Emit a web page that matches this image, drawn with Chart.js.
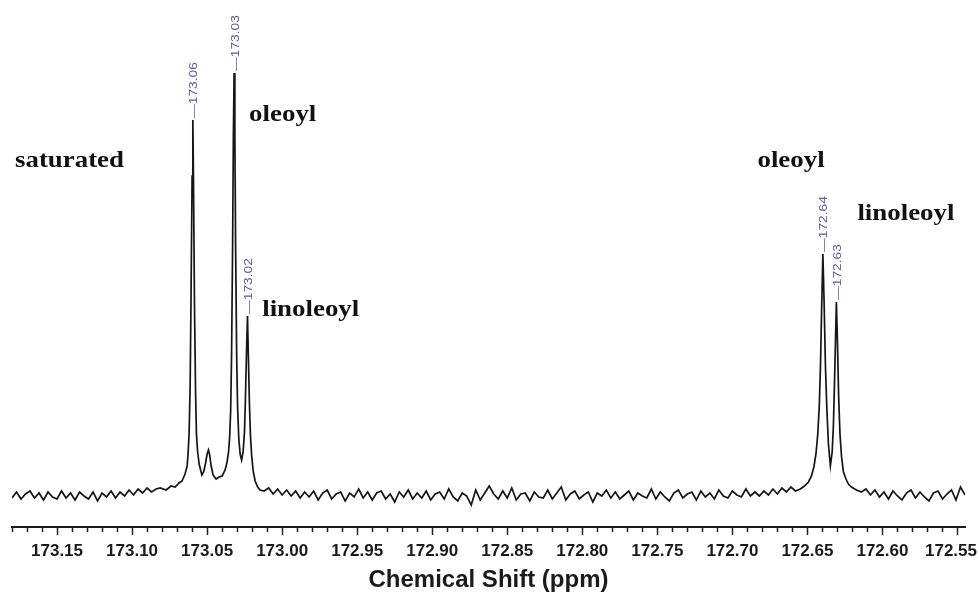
<!DOCTYPE html>
<html>
<head>
<meta charset="utf-8">
<title>13C NMR carbonyl region</title>
<script src="https://cdn.jsdelivr.net/npm/chart.js@4.4.1/dist/chart.umd.min.js"></script>
<style>
    html, body { margin: 0; padding: 0; background: #fff; }
    canvas { display: block; }
</style>
</head>
<body>
<canvas id="nmrCanvas" width="979" height="597"></canvas>
<script>
// spectrum, split in pieces (ppm / intensity, a.u.)
const baseLeftPpm = [
    173.180, 173.177, 173.174, 173.171, 173.168, 173.165, 173.162, 173.159, 173.156, 173.153,
    173.150, 173.147, 173.144, 173.141, 173.138, 173.135, 173.132, 173.129, 173.126, 173.123,
    173.120, 173.117, 173.114, 173.111, 173.108, 173.105, 173.102, 173.099, 173.096, 173.093,
    173.090, 173.087, 173.084
];
const baseLeftInt = [
    -2, 4, -3, 2, 5, -2, 3, -4, 4, -1,
    -3, 5, -2, 3, -4, 4, 0, -3, 4, -5,
    3, -1, 5, -2, 4, 0, 6, 1, 7, 3,
    8, 4, 7
];

const peaks173Ppm = [
    173.0813, 173.0773, 173.0740, 173.0713, 173.0687, 173.0667,
    173.0647, 173.0633, 173.0627, 173.0620, 173.0613, 173.0607, 173.0600, 173.0595,
    173.0591, 173.0584, 173.0577, 173.0571, 173.0563, 173.0553, 173.0535,
    173.0523, 173.0510, 173.0500, 173.0491, 173.0483, 173.0473, 173.0460, 173.0440,
    173.0420, 173.0400, 173.0380, 173.0367,
    173.0357, 173.0350, 173.0343, 173.0337, 173.0330, 173.0325, 173.0320, 173.0315,
    173.0310, 173.0303, 173.0297, 173.0289, 173.0280, 173.0270, 173.0260, 173.0251,
    173.0245, 173.0238, 173.0231, 173.0225, 173.0218, 173.0211, 173.0203, 173.0193,
    173.0180, 173.0163, 173.0147
];
const peaks173Int = [
    8, 6, 10, 9, 13, 15,
    22, 30, 42, 62, 110, 200, 320, 376,
    320, 190, 105, 62, 44, 32, 21,
    24, 33, 42, 46, 41, 30, 21, 17,
    19, 20, 26, 34,
    44, 58, 85, 140, 250, 360, 423, 360,
    250, 140, 90, 58, 42, 36, 44, 64,
    95, 140, 180, 140, 92, 60, 40, 25,
    15, 9, 6
];

const baseMidPpm = [
    173.012, 173.009, 173.006, 173.003, 173.000, 172.997, 172.994, 172.991, 172.988, 172.985,
    172.982, 172.979, 172.976, 172.973, 172.970, 172.967, 172.964, 172.961, 172.958, 172.955,
    172.952, 172.949, 172.946, 172.943, 172.940, 172.937, 172.934, 172.931, 172.928, 172.925,
    172.922, 172.919, 172.916, 172.913, 172.910, 172.907, 172.904, 172.901, 172.898, 172.895,
    172.892, 172.889, 172.886, 172.883, 172.880, 172.877, 172.874, 172.871, 172.868, 172.865,
    172.862, 172.859, 172.856, 172.853, 172.850, 172.847, 172.844, 172.841, 172.838, 172.835,
    172.832, 172.829, 172.826, 172.823, 172.820, 172.817, 172.814, 172.811, 172.808, 172.805,
    172.802, 172.799, 172.796, 172.793, 172.790, 172.787, 172.784, 172.781, 172.778, 172.775,
    172.772, 172.769, 172.766, 172.763, 172.760, 172.757, 172.754, 172.751, 172.748, 172.745,
    172.742, 172.739, 172.736, 172.733, 172.730, 172.727, 172.724, 172.721, 172.718, 172.715,
    172.712, 172.709, 172.706, 172.703, 172.700, 172.697, 172.694, 172.691, 172.688, 172.685,
    172.682, 172.679, 172.676, 172.673, 172.670, 172.667, 172.664, 172.661
];
const baseMidInt = [
    5, 8, 2, 7, 1, 6, 0, 5, -2, 4,
    -1, 5, -4, 3, 6, -3, 2, 4, -5, 3,
    -1, 7, -2, 4, -4, 3, 5, -3, 2, -6,
    4, -1, 6, -3, 3, -2, 5, -4, 2, 4,
    -3, 7, -1, -5, 3, 0, -9, 6, -4, 3,
    10, 2, -3, 5, -2, 8, -4, 2, 3, -5,
    4, -1, -2, 6, -3, 3, 9, -4, 2, 5,
    -3, 1, 4, -6, 3, 0, 6, -2, 4, -3,
    1, 5, -4, 3, 0, -2, 7, -3, 4, -1,
    -5, 3, 6, -2, 2, 4, -4, 5, -1, 3,
    -3, 6, 0, -2, 5, 1, -1, 7, 0, 4,
    0, 5, 1, 7, 2, 8, 4, 9
];

const peaks1726Ppm = [
    172.6580, 172.6547, 172.6520, 172.6493, 172.6473, 172.6457, 172.6443, 172.6431,
    172.6421, 172.6413, 172.6405, 172.6397, 172.6389, 172.6380, 172.6370, 172.6360,
    172.6347, 172.6335, 172.6327, 172.6320, 172.6313, 172.6307, 172.6300, 172.6292,
    172.6283, 172.6273, 172.6260, 172.6243, 172.6227, 172.6207, 172.6173
];
const peaks1726Int = [
    5, 7, 10, 14, 20, 29, 42, 62,
    90, 130, 190, 242, 195, 130, 85, 52,
    30, 44, 70, 110, 155, 194, 155, 100,
    62, 40, 24, 17, 12, 9, 6
];

const baseRightPpm = [
    172.614, 172.611, 172.608, 172.605, 172.602, 172.599, 172.596, 172.593, 172.590, 172.587,
    172.584, 172.581, 172.578, 172.575, 172.572, 172.569, 172.566, 172.563, 172.560, 172.557,
    172.554, 172.551, 172.548, 172.545
];
const baseRightInt = [
    4, 7, 1, 6, -1, 4, -3, 5, 0, -4,
    3, 6, -2, 4, -1, -5, 3, 5, -3, 2,
    6, -4, 9, 1
];

const tickLabels = ['173.15', '173.10', '173.05', '173.00', '172.95', '172.90', '172.85',
    '172.80', '172.75', '172.70', '172.65', '172.60', '172.55'];
const peakLabels = ['173.06', '173.03', '173.02', '172.64', '172.63'];

// assignments written on the spectrum, anchored at (ppm, intensity)
const noteText = ['saturated', 'oleoyl', 'linoleoyl', 'oleoyl', 'linoleoyl'];
const noteShift = [173.178, 173.022, 173.0133, 172.6833, 172.6167];
const noteLevel = [329, 375, 180, 329, 276];

const spectrum = [];
[[baseLeftPpm, baseLeftInt], [peaks173Ppm, peaks173Int], [baseMidPpm, baseMidInt],
 [peaks1726Ppm, peaks1726Int], [baseRightPpm, baseRightInt]].forEach(function (seg) {
    const n = Math.min(seg[0].length, seg[1].length);
    for (let i = 0; i < n; i++) {
        spectrum.push({ x: seg[0][i], y: seg[1][i] });
    }
});

function peakTop(ppm) {
    let best = null;
    spectrum.forEach(p => {
        if (Math.abs(p.x - ppm) < 0.005 && (!best || p.y > best.y)) best = p;
    });
    return best;
}

const spectrumDecor = {
    id: 'spectrumDecor',
    afterDraw(chart) {
        const ctx = chart.ctx;
        const xScale = chart.scales.x;
        const yScale = chart.scales.y;
        const axisY = chart.chartArea.bottom;

        // tick marks, long ones at the labelled values
        ctx.save();
        ctx.strokeStyle = '#222';
        ctx.lineWidth = 1.5;
        ctx.beginPath();
        xScale.ticks.forEach(t => {
            const px = Math.round(xScale.getPixelForValue(t.value)) + 0.5;
            const major = tickLabels.indexOf(t.value.toFixed(2)) >= 0;
            ctx.moveTo(px, axisY);
            ctx.lineTo(px, axisY + (major ? 8 : 5));
        });
        ctx.stroke();

        ctx.font = 'bold 17px "Liberation Sans", Arial, sans-serif';
        ctx.fillStyle = '#1a1a1a';
        ctx.textAlign = 'center';
        ctx.textBaseline = 'alphabetic';
        tickLabels.forEach(lbl => {
            let px = xScale.getPixelForValue(parseFloat(lbl));
            const half = ctx.measureText(lbl).width / 2;
            px = Math.min(px, chart.width - 2 - half);
            ctx.fillText(lbl, px, axisY + 29);
        });
        ctx.restore();

        // blue peak picks above each line
        peakLabels.forEach(lbl => {
            const top = peakTop(parseFloat(lbl));
            if (!top) return;
            const px = xScale.getPixelForValue(top.x);
            const py = yScale.getPixelForValue(top.y);
            ctx.save();
            ctx.translate(px + 1.5, py - 2);
            ctx.rotate(-Math.PI / 2);
            ctx.scale(1.25, 1);
            ctx.font = '11px "Liberation Sans", Arial, sans-serif';
            ctx.fillStyle = '#5a5aaa';
            ctx.textAlign = 'left';
            ctx.textBaseline = 'middle';
            ctx.fillText('\u2014' + lbl, 0, 0);
            ctx.restore();
        });

        // assignments
        noteText.forEach((txt, i) => {
            const px = xScale.getPixelForValue(noteShift[i]);
            const py = yScale.getPixelForValue(noteLevel[i]);
            ctx.save();
            ctx.translate(px, py);
            ctx.scale(1.12, 1);
            ctx.font = 'bold 24px "Liberation Serif", "Times New Roman", serif';
            ctx.fillStyle = '#111';
            ctx.textAlign = 'left';
            ctx.textBaseline = 'alphabetic';
            ctx.fillText(txt, 0, 0);
            ctx.restore();
        });
    }
};

const ctx = document.getElementById('nmrCanvas').getContext('2d');

new Chart(ctx, {
    type: 'line',
    data: {
        datasets: [{
            data: spectrum,
            borderColor: '#151515',
            borderWidth: 1.7,
            pointRadius: 0,
            tension: 0,
            fill: false
        }]
    },
    options: {
        responsive: false,
        animation: false,
        layout: { padding: { top: 10, left: 12, right: 14, bottom: 0 } },
        plugins: {
            legend: { display: false },
            tooltip: { enabled: false }
        },
        scales: {
            x: {
                type: 'linear',
                reverse: true,
                min: 172.545,
                max: 173.18,
                afterBuildTicks: scale => {
                    const ticks = [];
                    for (let k = 17255; k <= 17318; k++) ticks.push({ value: k / 100 });
                    scale.ticks = ticks;
                },
                afterFit: scale => { scale.height = 70; },
                ticks: { display: false },
                grid: { display: false },
                border: { display: true, color: '#1a1a1a', width: 2 },
                title: {
                    display: true,
                    text: 'Chemical Shift (ppm)',
                    color: '#1a1a1a',
                    font: { family: '"Liberation Sans", Arial, sans-serif', weight: 'bold', size: 24 },
                    padding: { top: 0, bottom: 2 }
                }
            },
            y: {
                display: false,
                min: -31,
                max: 486
            }
        }
    },
    plugins: [spectrumDecor]
});
</script>
</body>
</html>
